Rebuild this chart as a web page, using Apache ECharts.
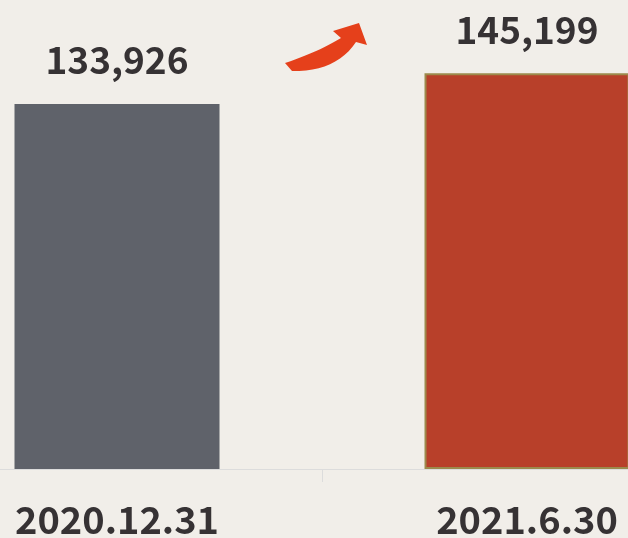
<!DOCTYPE html>
<html>
<head>
<meta charset="utf-8">
<script src="https://cdn.jsdelivr.net/npm/echarts@6/dist/echarts.min.js"></script>
<style>
html,body{margin:0;padding:0;background:#f1eee9;}
#chart{width:628px;height:538px;}
</style>
</head>
<body>
<div id="chart"></div>
<script>
var categories = ['2020.12.31', '2021.6.30'];
var values = [133926, 145199];
var barColors = ['#5f626a', '#b8402a'];

function quad(p0, c, p1, n) {
  var pts = [];
  for (var i = 0; i <= n; i++) {
    var t = i / n, u = 1 - t;
    pts.push([u * u * p0[0] + 2 * u * t * c[0] + t * t * p1[0],
              u * u * p0[1] + 2 * u * t * c[1] + t * t * p1[1]]);
  }
  return pts;
}
var arrowPts = []
  .concat(quad([285, 63], [318, 52], [341, 38], 12))
  .concat([[333, 31], [359, 23], [367, 45]])
  .concat(quad([356, 42], [336, 72], [292, 71], 12));

var chart = echarts.init(document.getElementById('chart'), null, {renderer: 'canvas'});
var option = {
  backgroundColor: '#f1eee9',
  animation: false,
  grid: {left: -88, right: -104, top: 32.8, bottom: 69, outerBoundsMode: 'none'},
  xAxis: {
    type: 'category',
    data: categories,
    axisLine: {show: true, lineStyle: {color: '#dcdcdc', width: 1}},
    axisTick: {show: true, alignWithLabel: false, length: 13, lineStyle: {color: '#dcdcdc'}},
    axisLabel: {
      margin: 32,
      fontSize: 38,
      fontWeight: 'bold',
      color: '#363234',
      fontFamily: 'Noto Sans CJK SC'
    }
  },
  yAxis: {
    type: 'value',
    min: 0,
    max: 160000,
    show: false,
    splitLine: {show: false}
  },
  series: [{
    type: 'bar',
    barWidth: '50%',
    data: values.map(function (v, i) {
      return {
        value: v,
        itemStyle: i === 1
          ? {color: barColors[i], borderColor: '#9c8a4c', borderWidth: 2}
          : {color: barColors[i]}
      };
    }),
    label: {
      show: true,
      position: 'top',
      distance: 25,
      fontSize: 37,
      fontWeight: 'bold',
      color: '#363234',
      fontFamily: 'Noto Sans CJK SC',
      formatter: function (p) { return p.value.toLocaleString('en-US'); }
    }
  }],
  graphic: [{
    type: 'polygon',
    shape: {points: arrowPts},
    style: {fill: '#e5401b'}
  }]
};
chart.setOption(option);
</script>
</body>
</html>
